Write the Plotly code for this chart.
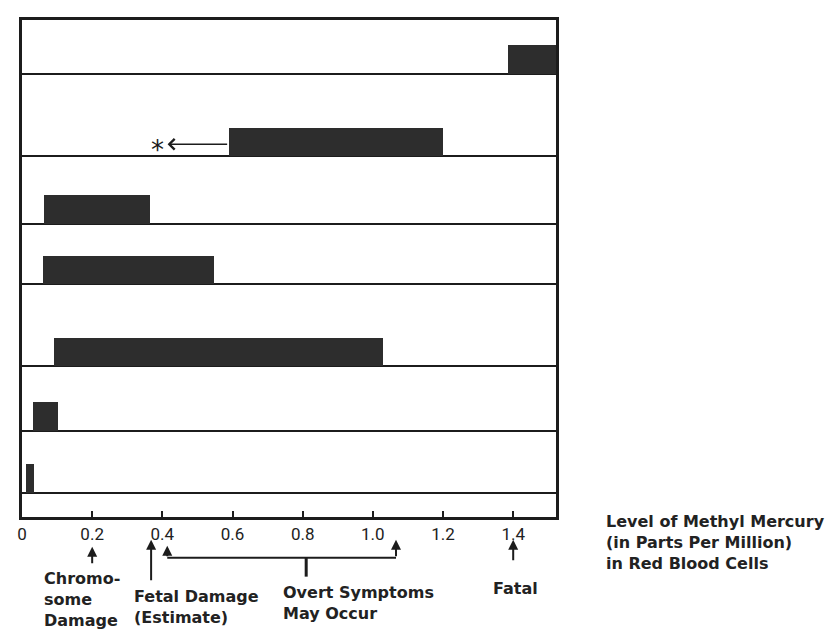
import plotly.graph_objects as go

# ---------------- data ----------------
# seven unlabeled rows, top to bottom (row labels are cropped off in the source)
row_names = ["Row 1", "Row 2", "Row 3", "Row 4", "Row 5", "Row 6", "Row 7"]
range_start = [1.385, 0.589, 0.062, 0.060, 0.091, 0.030, 0.0125]
range_end = [1.522, 1.200, 0.364, 0.548, 1.029, 0.102, 0.034]

# row 2 has an arrowed extension to the left marked with an asterisk
extension_row = 1
extension_to = 0.415
asterisk_at = 0.385

tick_vals = [0, 0.2, 0.4, 0.6, 0.8, 1.0, 1.2, 1.4]
tick_text = ["0", "0.2", "0.4", "0.6", "0.8", "1.0", "1.2", "1.4"]

# threshold levels marked under the axis
chromosome_level = 0.2
fetal_level = 0.368
overt_range = [0.414, 1.066]
overt_stem = 0.81
fatal_level = 1.4

axis_title = "Level of Methyl Mercury<br>(in Parts Per Million)<br>in Red Blood Cells"
label_chromo = "Chromo-<br>some<br>Damage"
label_fetal = "Fetal Damage<br>(Estimate)"
label_overt = "Overt Symptoms<br>May Occur"
label_fatal = "Fatal"

# ---------------- layout constants ----------------
PAGE_W, PAGE_H = 835, 631
OFF = 8                                    # default body margin of the html page
W, H = PAGE_W - OFF, PAGE_H - OFF
PL, PR, PT, PB = 22, 556, 17, 517          # plot area in page pixels
X_MAX = 1.522
Y_MAX = 500
ROW_EDGES = [446, 363, 295, 234, 152, 87, 24.5]   # bottom line of each row (y units)
BAR_H = 28.5
INK = "#1c1c1c"
BAR_COLOR = "#2d2d2d"
TXT_FONT = dict(family="DejaVu Sans", size=16, color="#222222", weight="bold")


def fx(px):
    return (px - PL) / (PR - PL)


def fy(py):
    return (PB - py) / (PB - PT)


fig = go.Figure()

fig.add_trace(go.Bar(
    orientation="h",
    y=[e + BAR_H / 2 for e in ROW_EDGES],
    x=[e - s for s, e in zip(range_start, range_end)],
    base=range_start,
    width=BAR_H,
    marker=dict(color=BAR_COLOR, line=dict(width=0)),
    hovertext=row_names,
    showlegend=False,
))

annotations = []
shapes = []

# extension arrow + asterisk in row 2
ext_y = ROW_EDGES[extension_row] + 12
annotations.append(dict(
    x=extension_to, y=ext_y, xref="x", yref="y",
    ax=range_start[extension_row], ay=ext_y, axref="x", ayref="y",
    showarrow=True, arrowhead=4, arrowsize=1.3, arrowwidth=1.6,
    arrowcolor=INK, standoff=0, text=""))
annotations.append(dict(
    x=asterisk_at, y=ext_y, xref="x", yref="y", text="*",
    showarrow=False, font=dict(family="DejaVu Sans", size=26, color=INK),
    yshift=-6))

# arrows below the axis
def up_arrow(xval, head_py, tail_py, width=2):
    annotations.append(dict(
        x=xval, y=fy(head_py), xref="x", yref="paper",
        ax=0, ay=tail_py - head_py, showarrow=True,
        arrowhead=2, arrowsize=1, arrowwidth=width,
        arrowcolor=INK, standoff=0, text=""))

up_arrow(chromosome_level, 547, 565)
up_arrow(fetal_level, 540, 582)
up_arrow(overt_range[0], 546, 558)
up_arrow(overt_range[1], 540, 558)
up_arrow(fatal_level, 540, 562)

shapes.append(dict(type="line", xref="x", yref="paper",
                   x0=overt_range[0], x1=overt_range[1], y0=fy(558), y1=fy(558),
                   line=dict(color=INK, width=2)))
shapes.append(dict(type="line", xref="x", yref="paper",
                   x0=overt_stem, x1=overt_stem, y0=fy(558), y1=fy(577),
                   line=dict(color=INK, width=3)))

# text labels
def label(text, px, py, anchor="left", size=16):
    f = dict(TXT_FONT)
    f["size"] = size
    annotations.append(dict(
        x=fx(px), y=fy(py), xref="paper", yref="paper", text=text,
        showarrow=False, xanchor=anchor, yanchor="middle", align=anchor,
        font=f))

label(label_chromo, 42, 600)
label(label_fetal, 132, 608)
label(label_overt, 281, 604)
label(label_fatal, 515, 589, anchor="center")
label(axis_title, 604, 543, size=16)

fig.update_layout(
    width=W, height=H,
    margin=dict(l=PL - OFF, r=PAGE_W - PR, t=PT - OFF, b=PAGE_H - PB, pad=0),
    paper_bgcolor="white", plot_bgcolor="white",
    bargap=0,
    showlegend=False,
    annotations=annotations,
    shapes=shapes,
    xaxis=dict(
        range=[0, X_MAX], tickvals=tick_vals, ticktext=tick_text,
        ticks="inside", ticklen=6, tickwidth=2, tickcolor=INK,
        showgrid=False, zeroline=False,
        showline=True, mirror=True, linewidth=3, linecolor=INK,
        tickfont=dict(family="Roboto", size=17, color="#222222"),
        fixedrange=True,
    ),
    yaxis=dict(
        range=[0, Y_MAX], tickvals=ROW_EDGES, showticklabels=False, ticks="",
        showgrid=True, gridcolor=INK, gridwidth=2,
        zeroline=False, showline=True, mirror=True, linewidth=3, linecolor=INK,
        fixedrange=True,
    ),
)

fig.write_html("out.html")
